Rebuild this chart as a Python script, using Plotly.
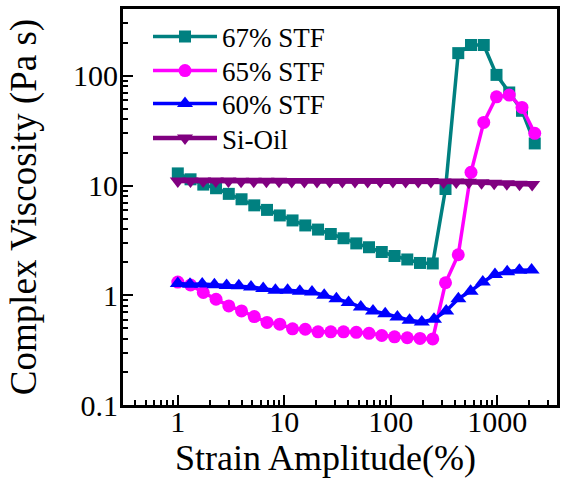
import plotly.graph_objects as go

# Strain amplitude (%) grids
x_stf = [1, 1.317, 1.735, 2.286, 3.011, 3.967, 5.225, 6.883, 9.070, 11.95, 15.74,
         20.74, 27.32, 35.99, 47.41, 62.45, 82.27, 108.4, 142.8, 188.1, 247.7,
         326.4, 430.0, 566.4, 746.1, 983.0, 1295, 1706, 2247]
x_60 = [1, 1.302, 1.695, 2.207, 2.873, 3.740, 4.869, 6.338, 8.251, 10.74, 13.98,
        18.20, 23.70, 30.85, 40.16, 52.28, 68.06, 88.59, 115.3, 150.1, 195.4,
        254.4, 331.2, 431.1, 561.3, 730.7, 951.2, 1238, 1612, 2099]
x_oil = [1, 1.315, 1.729, 2.273, 2.988, 3.928, 5.164, 6.790, 8.926, 11.74, 15.43,
         20.28, 26.67, 35.06, 46.09, 60.60, 79.67, 104.7, 137.7, 181.0, 238.0,
         312.9, 411.4, 540.8, 711.0, 934.8, 1229, 1616, 2124]

# Complex viscosity (Pa s)
y_67 = [12.9, 11.4, 10.2, 9.45, 8.4, 7.5, 6.6, 6.0, 5.34, 4.81, 4.33, 3.97, 3.62,
        3.31, 2.97, 2.74, 2.48, 2.28, 2.12, 1.97, 1.95, 9.3, 161, 191, 191, 102,
        70.5, 48, 24.2]
y_65 = [1.32, 1.24, 1.06, 0.92, 0.80, 0.72, 0.64, 0.566, 0.545, 0.495, 0.49,
        0.464, 0.464, 0.464, 0.46, 0.45, 0.43, 0.418, 0.41, 0.404, 0.40, 1.30,
        2.34, 13.2, 37.6, 64.4, 66.8, 51.5, 29.9]
y_60 = [1.28, 1.26, 1.27, 1.25, 1.23, 1.22, 1.19, 1.15, 1.11, 1.11, 1.09, 1.07,
        1.00, 0.93, 0.86, 0.78, 0.72, 0.68, 0.635, 0.593, 0.572, 0.605, 0.72,
        0.93, 1.09, 1.32, 1.545, 1.64, 1.69, 1.70]
y_oil = [11.0, 11.0, 11.0, 11.0, 11.0, 10.95, 10.95, 10.95, 10.95, 10.9, 10.9,
         10.9, 10.9, 10.9, 10.9, 10.9, 10.9, 10.9, 10.9, 10.9, 10.9, 10.8, 10.8,
         10.7, 10.6, 10.5, 10.4, 10.3, 10.2]

names = ["67% STF", "65% STF", "60% STF", "Si-Oil"]
colors = ["#008080", "#FF00FF", "#0000FF", "#800080"]
symbols = ["square", "circle", "triangle-up", "triangle-down"]
sizes = [12, 13, 14, 14]
widths = [3.5, 3.5, 3.5, 4.5]
xs = [x_stf, x_stf, x_60, x_oil]
ys = [y_67, y_65, y_60, y_oil]

x_ticks = [1, 10, 100, 1000]
x_ticktext = ["1", "10", "100", "1000"]
y_ticks = [0.1, 1, 10, 100]
y_ticktext = ["0.1", "1", "10", "100"]
x_title = "Strain Amplitude(%)"
y_title = "Complex Viscosity (Pa s)"

FONT = "Liberation Serif, Times New Roman, Times, serif"

# figure geometry (px)
W, H = 561, 481
ML, MR, MT, MB = 123, 4, 9, 76
plot_w = W - ML - MR
plot_h = H - MT - MB
legend_left_px = 148
legend_rows_px = [37.0, 71.0, 104.0, 138.5]
legend_ids = ["legend", "legend2", "legend3", "legend4"]
x_title_center_px = (325, 458)

fig = go.Figure()
for n, x, y, c, s, sz, w, lg in zip(names, xs, ys, colors, symbols, sizes,
                                      widths, legend_ids):
    fig.add_trace(go.Scatter(
        x=x, y=y, mode="lines+markers", name=n, legend=lg,
        line=dict(color=c, width=w),
        marker=dict(symbol=s, size=sz, color=c, line=dict(width=0)),
    ))

legend_layout = {}
for lg, row in zip(legend_ids, legend_rows_px):
    legend_layout[lg] = dict(
        x=(legend_left_px - ML) / plot_w, y=1 - (row - MT) / plot_h,
        xanchor="left", yanchor="middle",
        font=dict(family=FONT, size=27, color="black"),
        itemwidth=64, bgcolor="rgba(0,0,0,0)", borderwidth=0,
        tracegroupgap=0,
    )

fig.update_layout(
    width=W, height=H,
    margin=dict(l=ML, r=MR, t=MT, b=MB, autoexpand=False),
    paper_bgcolor="white", plot_bgcolor="white",
    font=dict(family=FONT, color="black"),
    showlegend=True,
    **legend_layout,
)

fig.add_annotation(
    text=x_title, xref="paper", yref="paper",
    x=(x_title_center_px[0] - ML) / plot_w,
    y=1 - (x_title_center_px[1] - MT) / plot_h,
    xanchor="center", yanchor="middle", showarrow=False,
    font=dict(family=FONT, size=36, color="black"),
)

axis_common = dict(
    type="log", showline=True, linewidth=3, linecolor="black", mirror=True,
    ticks="inside", ticklen=10, tickwidth=2, tickcolor="black",
    showgrid=False, zeroline=False, automargin=False,
    minor=dict(ticks="inside", ticklen=5, tickwidth=2, tickcolor="black",
               dtick="D1", showgrid=False),
)

fig.update_xaxes(
    range=[-0.5146, 3.5606], tickmode="array", tickvals=x_ticks,
    ticktext=x_ticktext, tickfont=dict(family=FONT, size=30, color="black"),
    ticklabelstandoff=-12,
    **axis_common,
)
fig.update_yaxes(
    range=[-1, 2.609], tickmode="array", tickvals=y_ticks,
    ticktext=y_ticktext, tickfont=dict(family=FONT, size=30, color="black"),
    ticklabelstandoff=-4,
    title=dict(text=y_title, font=dict(family=FONT, size=37), standoff=26),
    **axis_common,
)

fig.write_html("out.html")
